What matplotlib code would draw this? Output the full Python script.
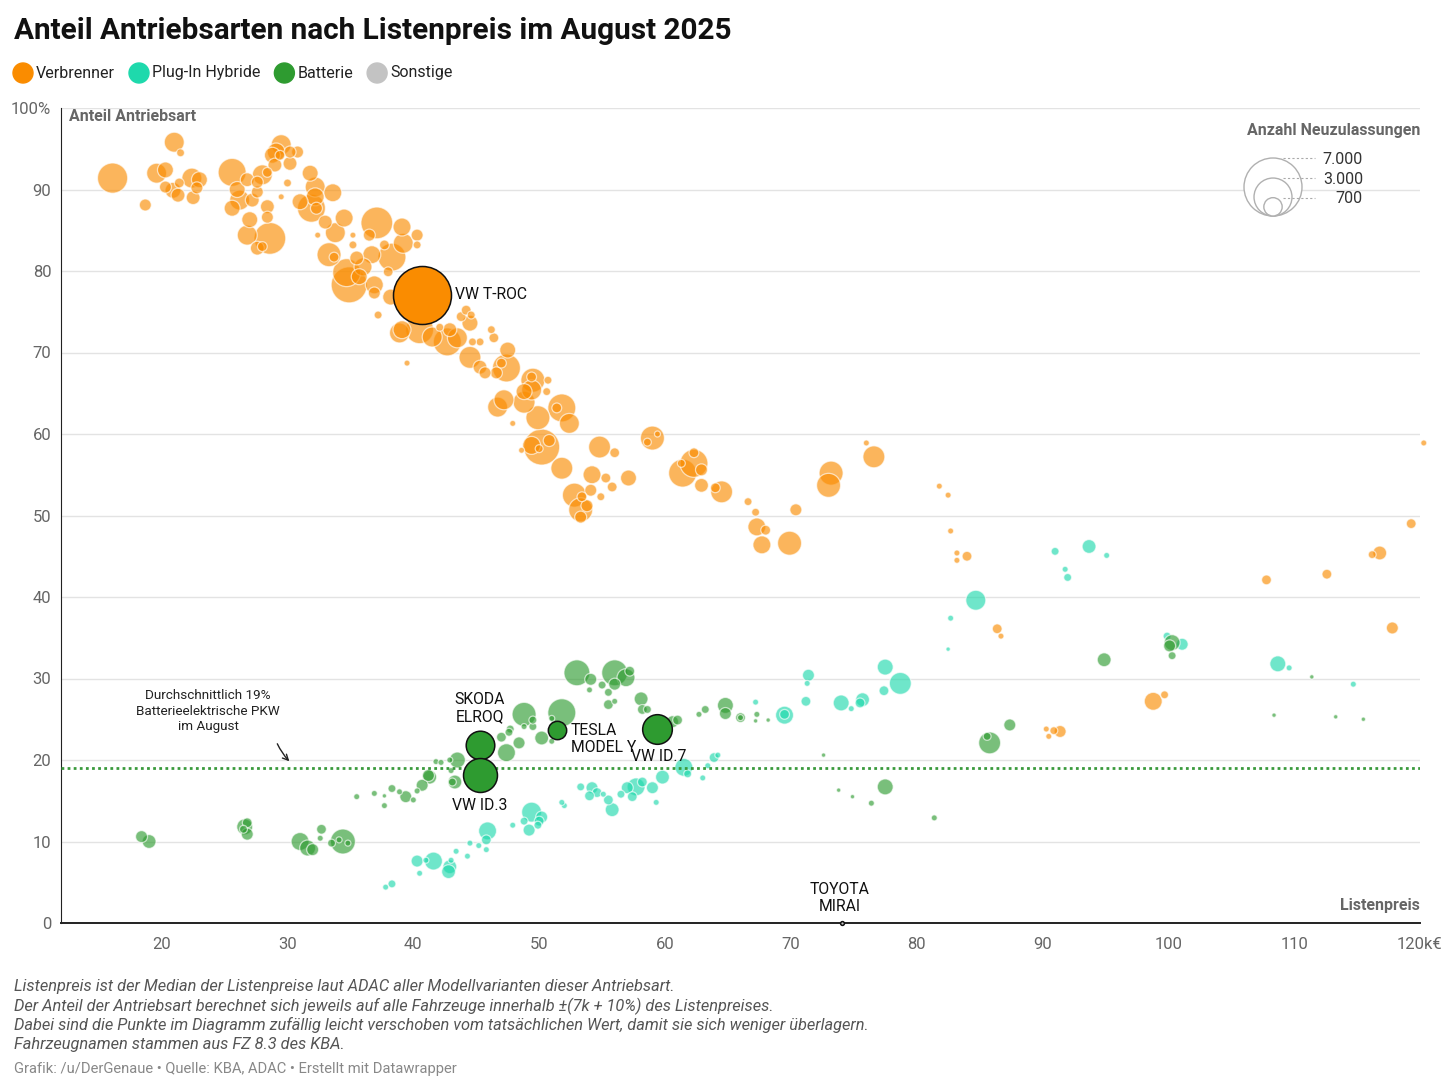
import numpy as np
import matplotlib.pyplot as plt
from matplotlib.patches import Circle
from matplotlib.transforms import IdentityTransform

plt.rcParams['font.family'] = ['Roboto', 'DejaVu Sans']

# --- Daten (Listenpreis in k€, Anteil in %, Anzahl Neuzulassungen) ---
antriebe = ['Verbrenner', 'Plug-In Hybride', 'Batterie', 'Sonstige']

verbrenner_preis = [16.1, 21.0, 21.5, 18.7, 19.6, 20.3, 20.3, 20.9, 21.4, 21.3, 22.4, 22.8, 23.0, 22.5,
                    25.6, 26.2, 25.6, 26.8, 27.6, 28.0, 28.4, 27.6, 28.4, 28.4, 27.0, 26.8, 28.6, 27.6,
                    28.0, 27.2, 29.5, 29.1, 28.8, 29.4, 30.2, 30.2, 30.8, 30.0, 29.5, 31.8, 32.2, 32.2,
                    31.0, 31.9, 32.3, 33.6, 32.4, 33.8, 34.5, 35.2, 35.2, 33.3, 33.7, 35.5, 34.7, 34.9,
                    35.7, 36.7, 37.1, 36.5, 37.7, 38.0, 38.3, 36.9, 36.9, 37.2, 39.1, 39.2, 40.3, 40.3,
                    38.9, 39.5, 38.2, 39.1, 40.5, 41.5, 42.9, 43.5, 42.7, 44.2, 44.6, 44.5, 43.8, 42.1,
                    44.7, 45.3, 46.2, 46.4, 44.5, 45.3, 45.7, 46.6, 47.0, 47.5, 47.4, 49.4, 49.4, 48.8,
                    49.5, 50.7, 50.6, 48.8, 46.7, 47.2, 51.8, 51.4, 49.9, 52.4, 47.9, 50.2, 49.4, 50.0,
                    48.6, 51.8, 54.8, 56.0, 57.1, 59.0, 58.6, 59.4, 52.8, 53.3, 53.3, 54.1, 54.2, 55.3,
                    54.9, 53.4, 61.4, 62.3, 62.9, 62.3, 61.3, 62.9, 64.5, 64.0, 73.2, 73.0, 76.0, 76.6,
                    66.6, 67.2, 67.3, 68.0, 67.7, 69.9, 70.4, 81.8, 82.5, 82.7, 83.2, 83.2, 84.0, 86.4,
                    86.7, 107.8, 112.6, 116.8, 116.2, 119.3, 120.3, 117.8, 98.8, 99.7, 90.3, 90.5, 91.4,
                    90.9, 29.0, 26.0, 33.0, 36.0, 50.8, 55.8, 53.8]
verbrenner_anteil = [91.4, 95.8, 94.5, 88.1, 92.0, 92.4, 90.3, 89.9, 90.8, 89.3, 91.4, 90.2, 91.2, 89.0,
                     92.1, 88.7, 87.7, 91.2, 90.9, 91.8, 92.1, 89.7, 87.9, 86.6, 86.3, 84.4, 84.0, 82.8,
                     83.0, 88.7, 95.5, 94.6, 94.2, 94.2, 94.6, 93.2, 94.6, 90.8, 89.1, 92.0, 90.3, 89.1,
                     88.5, 87.7, 87.7, 89.6, 84.4, 84.7, 86.5, 84.4, 83.2, 82.0, 81.7, 81.6, 79.8, 78.3,
                     79.3, 82.0, 85.9, 84.4, 83.2, 79.9, 81.7, 78.3, 77.3, 74.6, 85.4, 83.4, 84.4, 83.2,
                     72.4, 68.7, 76.8, 72.8, 72.8, 71.9, 72.8, 71.8, 71.3, 75.2, 74.6, 73.6, 74.4, 73.1,
                     71.3, 71.3, 72.8, 71.8, 69.4, 68.2, 67.5, 67.5, 68.7, 70.3, 68.1, 67.0, 65.4, 65.2,
                     66.6, 66.6, 65.2, 63.9, 63.3, 64.2, 63.2, 63.2, 62.0, 61.3, 61.3, 58.4, 58.6, 58.2,
                     58.0, 55.8, 58.4, 57.7, 54.6, 59.5, 59.0, 60.0, 52.5, 50.7, 49.8, 53.1, 55.0, 54.6,
                     52.3, 52.3, 55.2, 56.4, 55.6, 57.7, 56.4, 53.7, 52.9, 53.4, 55.2, 53.7, 58.9, 57.2,
                     51.7, 50.4, 48.6, 48.2, 46.4, 46.6, 50.7, 53.6, 52.5, 48.1, 45.4, 44.5, 45.0, 36.1,
                     35.2, 42.1, 42.8, 45.4, 45.2, 49.0, 58.9, 36.2, 27.2, 28.0, 23.8, 22.9, 23.5,
                     23.6, 93.0, 90.0, 86.0, 80.5, 59.2, 53.5, 51.2]
verbrenner_anzahl = [1900, 830, 130, 300, 830, 530, 300, 530, 200, 400, 830, 300, 530, 400,
                     1630, 830, 530, 400, 300, 830, 200, 300, 400, 300, 530, 830, 2100, 400,
                     200, 400, 830, 670, 530, 200, 300, 400, 300, 130, 75, 530, 830, 670,
                     530, 1630, 300, 670, 75, 830, 670, 75, 130, 1200, 200, 400, 1630, 2700,
                     530, 670, 2100, 300, 200, 200, 1630, 670, 300, 130, 670, 830, 300, 130,
                     830, 75, 530, 670, 1630, 830, 400, 830, 1630, 200, 130, 530, 200, 130,
                     130, 130, 130, 200, 1000, 400, 300, 300, 200, 530, 1630, 200, 830, 530,
                     1200, 130, 130, 1000, 830, 830, 1630, 200, 1200, 830, 75, 2700, 670, 130,
                     75, 1000, 1000, 200, 530, 1200, 130, 75, 1200, 1200, 300, 300, 670, 200,
                     130, 200, 1630, 1630, 300, 200, 130, 400, 1000, 200, 1200, 1200, 75, 1000,
                     130, 130, 670, 200, 670, 1200, 300, 75, 75, 75, 75, 75, 200, 200,
                     75, 200, 200, 400, 130, 200, 75, 300, 670, 130, 75, 75, 300,
                     130, 400, 530, 400, 670, 300, 200, 300]

phev_preis = [67.2, 69.5, 69.5, 71.2, 71.4, 71.3, 74.0, 74.8, 75.7, 75.5, 77.5, 78.7, 77.4, 84.7,
              82.7, 82.5, 91.0, 93.7, 95.1, 91.8, 92.0, 99.9, 101.1, 108.7, 109.6, 114.7,
              37.8, 38.3, 40.3, 40.5, 41.6, 41.0, 42.9, 42.8, 43.0, 43.4, 44.3, 44.5, 45.2, 45.8,
              45.9, 45.8, 47.9, 49.4, 49.2, 48.8, 50.0, 50.2, 49.9, 51.8, 52.0, 53.3, 54.2, 54.0,
              54.6, 55.5, 55.8, 55.1, 56.5, 57.0, 57.7, 57.4, 58.2, 59.0, 59.8, 59.3, 61.5, 61.8,
              63.0, 63.4, 63.9, 64.2]
phev_anteil = [27.1, 25.5, 25.6, 27.2, 30.4, 29.4, 27.0, 26.3, 27.4, 27.0, 31.4, 29.4, 28.5, 39.6,
               37.4, 33.6, 45.6, 46.2, 45.1, 43.4, 42.4, 35.2, 34.2, 31.8, 31.3, 29.3,
               4.4, 4.8, 7.6, 6.1, 7.6, 7.7, 6.9, 6.3, 7.7, 8.8, 8.2, 9.8, 9.5, 10.2,
               11.3, 9.0, 12.0, 13.6, 11.4, 12.5, 12.5, 13.0, 12.0, 14.8, 14.4, 16.7, 16.6, 15.6,
               16.0, 15.1, 13.9, 15.8, 15.8, 16.6, 16.7, 15.5, 17.3, 16.6, 17.9, 14.8, 19.1, 18.3,
               17.8, 19.3, 20.3, 20.6]
phev_anzahl = [75, 670, 200, 200, 300, 75, 530, 75, 400, 200, 530, 1000, 200, 830,
               75, 40, 130, 400, 75, 75, 130, 130, 300, 530, 75, 75,
               75, 130, 300, 75, 670, 75, 400, 400, 75, 75, 75, 75, 75, 200,
               670, 75, 75, 830, 300, 130, 200, 300, 130, 75, 75, 130, 300, 200,
               200, 200, 400, 75, 130, 300, 670, 200, 200, 300, 400, 75, 670, 130,
               75, 75, 200, 75]

bev_preis = [94.9, 100.3, 100.1, 100.3, 111.4, 108.4, 113.3, 115.5, 85.8, 85.6, 87.4, 72.6, 73.8,
             74.9, 76.4, 77.5, 81.4, 66.0, 67.3, 67.2, 68.2,
             18.4, 19.0, 26.6, 26.8, 26.5, 26.8, 31.0, 31.6, 32.0, 32.7, 32.6, 34.4, 33.5, 34.1,
             34.8, 35.5, 36.9, 37.7, 37.7, 38.3, 38.9, 39.4, 40.0, 40.3, 40.7, 41.3, 41.2, 41.8,
             42.2, 43.1, 43.5, 43.0, 42.9, 43.3, 47.0, 47.4, 47.6, 47.7, 48.4, 48.8, 49.5, 49.5,
             48.8, 50.2, 51.0, 51.0, 51.8, 53.0, 54.1, 54.0, 55.0, 55.5, 56.0, 56.9, 57.2, 56.0,
             55.5, 56.0, 58.1, 58.2, 58.6, 60.6, 61.0, 62.7, 63.2, 64.8, 64.8, 66.0]
bev_anteil = [32.3, 34.4, 34.0, 32.8, 30.2, 25.5, 25.3, 25.0, 22.1, 22.9, 24.3, 20.6, 16.3,
              15.5, 14.7, 16.7, 12.9, 25.2, 25.6, 24.8, 24.9,
              10.6, 10.0, 11.8, 12.3, 11.5, 10.9, 10.0, 9.2, 9.0, 11.5, 10.4, 10.0, 9.8, 10.2,
              9.8, 15.5, 15.9, 14.4, 15.6, 16.5, 16.1, 15.5, 15.1, 16.2, 16.9, 17.9, 18.1, 19.8,
              19.7, 17.3, 20.0, 18.7, 20.0, 17.3, 22.8, 20.9, 23.4, 23.8, 22.1, 25.6, 24.9, 24.1,
              24.1, 22.7, 22.3, 25.1, 25.8, 30.7, 29.9, 28.6, 29.2, 28.3, 30.7, 30.1, 30.9, 29.3,
              26.8, 27.2, 27.5, 26.2, 26.2, 24.7, 24.9, 25.6, 26.2, 26.7, 25.7, 25.2]
bev_anzahl = [400, 530, 300, 130, 40, 40, 40, 40, 1000, 130, 300, 40, 40,
              40, 75, 530, 75, 75, 75, 40, 40,
              300, 400, 530, 200, 130, 300, 670, 530, 300, 200, 75, 1300, 130, 75,
              75, 75, 75, 75, 40, 130, 75, 300, 75, 75, 300, 400, 300, 75,
              75, 130, 530, 75, 75, 400, 200, 670, 130, 130, 300, 1200, 130, 130,
              75, 400, 75, 75, 1630, 1400, 300, 75, 130, 130, 1400, 670, 200, 300,
              200, 75, 400, 200, 130, 300, 200, 75, 130, 530, 300, 200]

# hervorgehobene Modelle
modelle = ['VW T-ROC', 'SKODA\nELROQ', 'VW ID.3', 'TESLA\nMODEL Y', 'VW ID.7', 'TOYOTA\nMIRAI']
modelle_antrieb = ['Verbrenner', 'Batterie', 'Batterie', 'Batterie', 'Batterie', 'Sonstige']
modelle_preis = [40.7, 45.3, 45.3, 51.4, 59.4, 74.1]
modelle_anteil = [77.1, 21.8, 18.1, 23.7, 23.8, 0.0]
modelle_anzahl = [7000, 1700, 2400, 700, 1830, 30]

bev_durchschnitt = 19
groessen_legende = [7000, 3000, 700]

# --- Stil ---
W, H = 1456, 1092
farben = {'Verbrenner': '#fa8c00', 'Plug-In Hybride': '#1ed9ac',
          'Batterie': '#2e9b30', 'Sonstige': '#c3c3c3'}
R_MAX = 29  # Radius in px fuer 7000


def flaeche(n):
    return (2 * R_MAX * 0.72) ** 2 * np.asarray(n, dtype=float) / 7000


def radius_px(n):
    return R_MAX * np.sqrt(n / 7000)


fig = plt.figure(figsize=(W / 100, H / 100), dpi=100)
ax = fig.add_axes([61 / W, 1 - 923 / H, (1420 - 61) / W, (923 - 108) / H])
ax.set_xlim(12, 120)
ax.set_ylim(0, 100)

for preis, anteil, anzahl, name in [(verbrenner_preis, verbrenner_anteil, verbrenner_anzahl, 'Verbrenner'),
                                    (phev_preis, phev_anteil, phev_anzahl, 'Plug-In Hybride'),
                                    (bev_preis, bev_anteil, bev_anzahl, 'Batterie')]:
    p, a, n = np.array(preis), np.array(anteil), np.array(anzahl)
    o = np.argsort(-n)
    ax.scatter(p[o], a[o], s=flaeche(n[o]), color=farben[name], alpha=0.64,
               edgecolors='white', linewidths=0.9, zorder=3, clip_on=False)

ax.axhline(bev_durchschnitt, color='#3a9a3c', lw=2.0, ls=(0, (1, 1.2)), zorder=4)

label_offsets = {'VW T-ROC': (24, 0, 'left', 'center'), 'SKODA\nELROQ': (0, 27, 'center', 'center'),
                 'VW ID.3': (0, -21.5, 'center', 'center'), 'TESLA\nMODEL Y': (10, -6.5, 'left', 'center'),
                 'VW ID.7': (1, -20, 'center', 'center'), 'TOYOTA\nMIRAI': (-2, 18, 'center', 'center')}
for name, antrieb, p, a, n in zip(modelle, modelle_antrieb, modelle_preis, modelle_anteil, modelle_anzahl):
    ax.scatter([p], [a], s=flaeche([n]), color=farben[antrieb], edgecolors='#111111',
               linewidths=1.1, zorder=6, clip_on=False)
    dx, dy, ha, va = label_offsets[name]
    ax.annotate(name, (p, a), xytext=(dx, dy), textcoords='offset points', ha=ha, va=va,
                fontsize=11.3, color='#111111', linespacing=1.15, zorder=7)

ax.text(23.7, 26.0, 'Durchschnittlich 19%\nBatterieelektrische PKW\nim August', ha='center', va='center',
        fontsize=9.7, color='#222222', linespacing=1.25)
ax.annotate('', xy=(30.3, 19.6), xytext=(29.1, 22.3),
            arrowprops=dict(arrowstyle='->', color='#222222', lw=1, connectionstyle='arc3,rad=0.1'))

# Achsen
for s in ['top', 'right']:
    ax.spines[s].set_visible(False)
ax.spines['left'].set_color('#222222')
ax.spines['bottom'].set_color('#222222')
ax.spines['bottom'].set_linewidth(1.4)
ax.set_yticks(range(0, 101, 10))
ax.set_yticklabels([str(v) for v in range(0, 100, 10)] + ['100%'])
ax.set_xticks(range(20, 121, 10))
ax.set_xticklabels([str(v) for v in range(20, 120, 10)] + ['120k€'])
ax.tick_params(length=0, labelsize=12, labelcolor='#666666')
ax.tick_params(axis='y', pad=7)
ax.tick_params(axis='x', pad=10)
ax.yaxis.grid(True, color='#e3e3e3', lw=1)
ax.set_axisbelow(True)

ax.text(0.006, 0.989, 'Anteil Antriebsart', transform=ax.transAxes, fontsize=11.5, fontweight='bold',
        color='#666666', ha='left', va='center')
ax.text(1.0, 0.021, 'Listenpreis', transform=ax.transAxes, fontsize=11.5, fontweight='bold',
        color='#666666', ha='right', va='center')

# Titel
fig.text(14 / W, 1 - 31 / H, 'Anteil Antriebsarten nach Listenpreis im August 2025', fontsize=21.4,
         fontweight='bold', color='#111111', ha='left', va='center')

# Farb-Legende
renderer = fig.canvas.get_renderer()
lx = 13
for name in antriebe:
    fig.add_artist(Circle((lx + 10, H - 73), 10, transform=IdentityTransform(), color=farben[name]))
    t = fig.text((lx + 23) / W, 1 - 73 / H, name, fontsize=11.5, color='#222222', ha='left', va='center')
    lx = t.get_window_extent(renderer).x1 + 14

# Groessen-Legende
fig.text(1420 / W, 1 - 131 / H, 'Anzahl Neuzulassungen', fontsize=11.5, fontweight='bold',
         color='#666666', ha='right', va='center')
unten = H - 216
for v in groessen_legende:
    r = radius_px(v)
    fig.add_artist(Circle((1273, unten + r), r, transform=IdentityTransform(), facecolor='white',
                          edgecolor='#b0b0b0', lw=1, zorder=5))
    top = unten + 2 * r
    fig.add_artist(plt.Line2D([1283, 1315], [top, top], transform=IdentityTransform(),
                              color='#aaaaaa', lw=0.8, ls=(0, (2, 2)), zorder=6))
    fig.text(1363 / W, (top - 1) / H, f'{v:,}'.replace(',', '.'), fontsize=11.5, color='#333333',
             ha='right', va='center', zorder=6)

# Fussnoten
noten = ['Listenpreis ist der Median der Listenpreise laut ADAC aller Modellvarianten dieser Antriebsart.',
         'Der Anteil der Antriebsart berechnet sich jeweils auf alle Fahrzeuge innerhalb ±(7k + 10%) des Listenpreises.',
         'Dabei sind die Punkte im Diagramm zufällig leicht verschoben vom tatsächlichen Wert, damit sie sich weniger überlagern.',
         'Fahrzeugnamen stammen aus FZ 8.3 des KBA.']
for i, z in enumerate(noten):
    fig.text(14 / W, 1 - (987 + 19 * i) / H, z, fontsize=11.8, style='italic', color='#555555',
             ha='left', va='center')
fig.text(14 / W, 1 - 1069 / H, 'Grafik: /u/DerGenaue • Quelle: KBA, ADAC • Erstellt mit Datawrapper',
         fontsize=10.6, color='#888888', ha='left', va='center')

fig.savefig('out.png', dpi=100, facecolor='white')
